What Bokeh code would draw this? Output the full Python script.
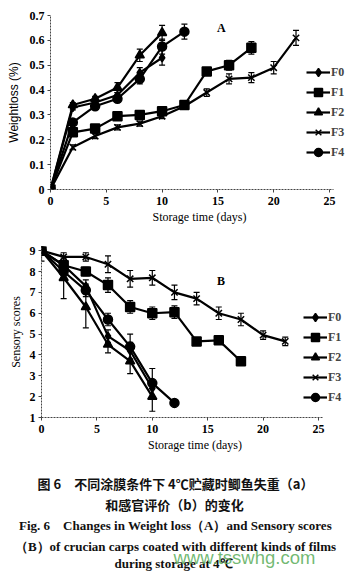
from bokeh.plotting import figure
from bokeh.layouts import column
from bokeh.models import ColumnDataSource, Whisker, TeeHead, Range1d, FixedTicker, Legend, LegendItem
from bokeh.embed import file_html
from bokeh.resources import INLINE
from bokeh.core.properties import value

# ---------------- data ----------------
series_names = ["F0", "F1", "F2", "F3", "F4"]
series_markers = ["diamond", "square", "triangle", "x", "circle"]

days_f0 = [0, 2, 4, 6, 8, 10]
days_f1 = [0, 2, 4, 6, 8, 10, 12, 14, 16, 18]
days_f2 = [0, 2, 4, 6, 8, 10]
days_f3 = [0, 2, 4, 6, 8, 10, 12, 14, 16, 18, 20, 22]
days_f4 = [0, 2, 4, 6, 8, 10, 12]

# (A) weight loss (%)
loss_f0 = [0, 0.33, 0.35, 0.38, 0.47, 0.53]
loss_f1 = [0, 0.23, 0.245, 0.295, 0.30, 0.315, 0.34, 0.475, 0.50, 0.57]
loss_f2 = [0, 0.34, 0.365, 0.41, 0.54, 0.63]
loss_f3 = [0, 0.17, 0.215, 0.25, 0.265, 0.295, 0.335, 0.39, 0.445, 0.45, 0.49, 0.61]
loss_f4 = [0, 0.27, 0.335, 0.365, 0.445, 0.575, 0.635]

loss_err_f0 = [0, 0.01, 0.01, 0.01, 0.02, 0.03]
loss_err_f1 = [0, 0.01, 0.01, 0.01, 0.01, 0.01, 0.01, 0.015, 0.02, 0.025]
loss_err_f2 = [0, 0.01, 0.01, 0.02, 0.025, 0.03]
loss_err_f3 = [0, 0.01, 0.01, 0.01, 0.01, 0.01, 0.01, 0.015, 0.02, 0.02, 0.025, 0.03]
loss_err_f4 = [0, 0.01, 0.01, 0.015, 0.02, 0.03, 0.03]

# (B) sensory scores
score_f0 = [9, 8.3, 7.3, 4.9, 4.2, 2.4]
score_f1 = [9, 8.3, 8.0, 7.35, 6.3, 6.0, 6.05, 4.65, 4.7, 3.7]
score_f2 = [9, 7.7, 6.3, 4.5, 3.7, 2.0]
score_f3 = [9, 8.7, 8.7, 8.35, 7.65, 7.7, 7.0, 6.7, 6.0, 5.7, 4.95, 4.65]
score_f4 = [9, 8.0, 7.1, 5.7, 4.4, 2.65, 1.7]

score_err_f0 = [0.5, 0.3, 0.3, 0.3, 0.4, 0.4]
score_err_f1 = [0, 0.2, 0.2, 0.35, 0.3, 0.3, 0.3, 0.1, 0.1, 0.1]
score_err_f2 = [0, 1.0, 1.0, 0.4, 0.6, 0.7]
score_err_f3 = [0, 0.2, 0.2, 0.4, 0.4, 0.35, 0.35, 0.3, 0.3, 0.3, 0.2, 0.2]
score_err_f4 = [0, 0.2, 0.3, 0.3, 0.6, 0.7, 0.1]

x_ticks = [0, 5, 10, 15, 20, 25]
a_y_ticks = [0, 0.1, 0.2, 0.3, 0.4, 0.5, 0.6, 0.7]
a_y_labels = ["0", "0.1", "0.2", "0.3", "0.4", "0.5", "0.6", "0.7"]
b_y_ticks = [1, 2, 3, 4, 5, 6, 7, 8, 9]

all_days = [days_f0, days_f1, days_f2, days_f3, days_f4]
all_loss = [loss_f0, loss_f1, loss_f2, loss_f3, loss_f4]
all_loss_err = [loss_err_f0, loss_err_f1, loss_err_f2, loss_err_f3, loss_err_f4]
all_score = [score_f0, score_f1, score_f2, score_f3, score_f4]
all_score_err = [score_err_f0, score_err_f1, score_err_f2, score_err_f3, score_err_f4]

SERIF = "Liberation Serif"
NB = "\u00a0"


def style_axes(p):
    for ax in (p.xaxis[0], p.yaxis[0]):
        ax.axis_line_color = "#444444"
        ax.axis_line_dash = "2 1"
        ax.axis_line_width = 1
        ax.major_tick_line_color = "#444444"
        ax.major_tick_in = 0
        ax.major_tick_out = 3
        ax.minor_tick_line_color = None
        ax.major_label_text_font = SERIF
        ax.major_label_text_font_style = "bold"
        ax.major_label_text_font_size = "12px"
        ax.major_label_text_color = "black"
        ax.axis_label_text_font_style = "normal"
        ax.axis_label_text_font_size = "12px"
        ax.axis_label_text_color = "black"
    p.xaxis.bounds = (0, 25.4)
    p.xaxis.major_label_standoff = 4
    p.xaxis.axis_label_standoff = 2
    p.yaxis.major_label_standoff = 3
    p.xaxis.axis_label_text_font = SERIF
    p.xgrid.grid_line_color = None
    p.ygrid.grid_line_color = None
    p.outline_line_color = None
    p.background_fill_color = "white"
    p.border_fill_color = "white"


def make_panel(values, errors, x_end, y_range, y_ticks, height, border_left,
               border_top, legend_loc):
    p = figure(width=350, height=height, output_backend="svg", toolbar_location=None,
               x_range=Range1d(0, x_end), y_range=y_range,
               min_border_left=border_left, min_border_right=2,
               min_border_top=border_top, min_border_bottom=39)
    p.frame_align = False
    items = []
    for name, mk, xs, ys, es in zip(series_names, series_markers, all_days, values, errors):
        src = ColumnDataSource(dict(x=xs, y=ys,
                                    upper=[v + e for v, e in zip(ys, es)],
                                    lower=[v - e for v, e in zip(ys, es)]))
        w = Whisker(source=src, base="x", upper="upper", lower="lower",
                    line_color="black", line_width=1.2,
                    upper_head=TeeHead(size=6, line_color="black", line_width=1.2),
                    lower_head=TeeHead(size=6, line_color="black", line_width=1.2))
        p.add_layout(w)
        r1 = p.line("x", "y", source=src, line_color="black", line_width=2.2)
        size = 8 if mk == "diamond" else 9
        r2 = p.scatter("x", "y", source=src, marker=mk, size=size,
                       fill_color="black", line_color="black", line_width=1.5)
        items.append(LegendItem(label=name, renderers=[r1, r2]))
    legend = Legend(items=items, location=legend_loc, orientation="vertical",
                    background_fill_alpha=0, border_line_color=None,
                    label_text_font=SERIF, label_text_font_style="bold",
                    label_text_font_size="12px", label_standoff=1,
                    glyph_width=24, glyph_height=20, label_height=20,
                    spacing=0, padding=0, margin=0)
    p.add_layout(legend)
    p.xaxis.ticker = FixedTicker(ticks=x_ticks)
    p.yaxis.ticker = FixedTicker(ticks=y_ticks)
    style_axes(p)
    return p


# ---------------- panel A ----------------
# frame 50..348 px, 25 days over 279 px
pa = make_panel(all_loss, all_loss_err, 25 * 298 / 279, Range1d(0, 0.7), a_y_ticks, 228,
                50, 15, (256, 27))
pa.xaxis.axis_label = "Storage time (days)"
pa.yaxis.axis_label = "Weightloss (%)"
pa.yaxis.axis_label_text_font = "Liberation Sans"
pa.yaxis.axis_label_standoff = 6
pa.yaxis.major_label_overrides = {t: s for t, s in zip(a_y_ticks, a_y_labels)}
pa.text(x=[15.3], y=[0.65], text=["A"], text_font=value(SERIF), text_font_style="bold",
        text_font_size="12px", text_align="center", text_baseline="middle")

# ---------------- panel B ----------------
# frame 41..348 px, 25 days over 277 px
pb = make_panel(all_score, all_score_err, 25 * 307 / 277, Range1d(1, 9.2), b_y_ticks, 228,
                41, 18, (262, 10))
pb.xaxis.axis_label = "Storage time (days)"
pb.yaxis.axis_label = "Sensory scores"
pb.yaxis.axis_label_text_font = SERIF
pb.yaxis.axis_label_standoff = 4
pb.text(x=[16.2], y=[7.55], text=["B"], text_font=value(SERIF), text_font_style="bold",
        text_font_size="12px", text_align="center", text_baseline="middle")

# ---------------- caption ----------------
pc = figure(width=350, height=117, output_backend="svg", toolbar_location=None,
            x_range=Range1d(0, 350), y_range=Range1d(117, 0),
            min_border=0, min_border_left=0, min_border_right=0,
            min_border_top=0, min_border_bottom=0)
pc.frame_align = False
pc.axis.visible = False
pc.xgrid.grid_line_color = None
pc.ygrid.grid_line_color = None
pc.outline_line_color = None

cap_cn = ["图" + NB + "6\u3000不同涂膜条件下" + NB + "4℃贮藏时鲫鱼失重（a）",
          "和感官评价（b）的变化"]
cap_en = ["Fig." + NB + "6" + NB * 4 + "Changes in Weight loss（A）and Sensory scores",
          "（B）of crucian carps coated with different kinds of films",
          "during storage at 4℃"]

pc.text(x=[175, 174], y=[27, 48], text=cap_cn, text_font=value("Noto Sans CJK SC"),
        text_font_style="bold", text_font_size="13px", text_align="center",
        text_baseline="middle", text_color="#111111")
pc.text(x=[175, 175, 173], y=[69, 90, 107], text=cap_en, text_font=value(SERIF),
        text_font_style="bold", text_font_size="13px", text_align="center",
        text_baseline="middle", text_color="#111111")
pc.text(x=[173], y=[101], text=["www.tsswhg.com"], text_font=value("Liberation Sans"),
        text_font_size="18.5px", text_align="left", text_baseline="middle",
        text_color="#5aad5a", text_alpha=0.85)

layout = column(pa, pb, pc, spacing=0)
open("out.html", "w").write(file_html(layout, INLINE))
